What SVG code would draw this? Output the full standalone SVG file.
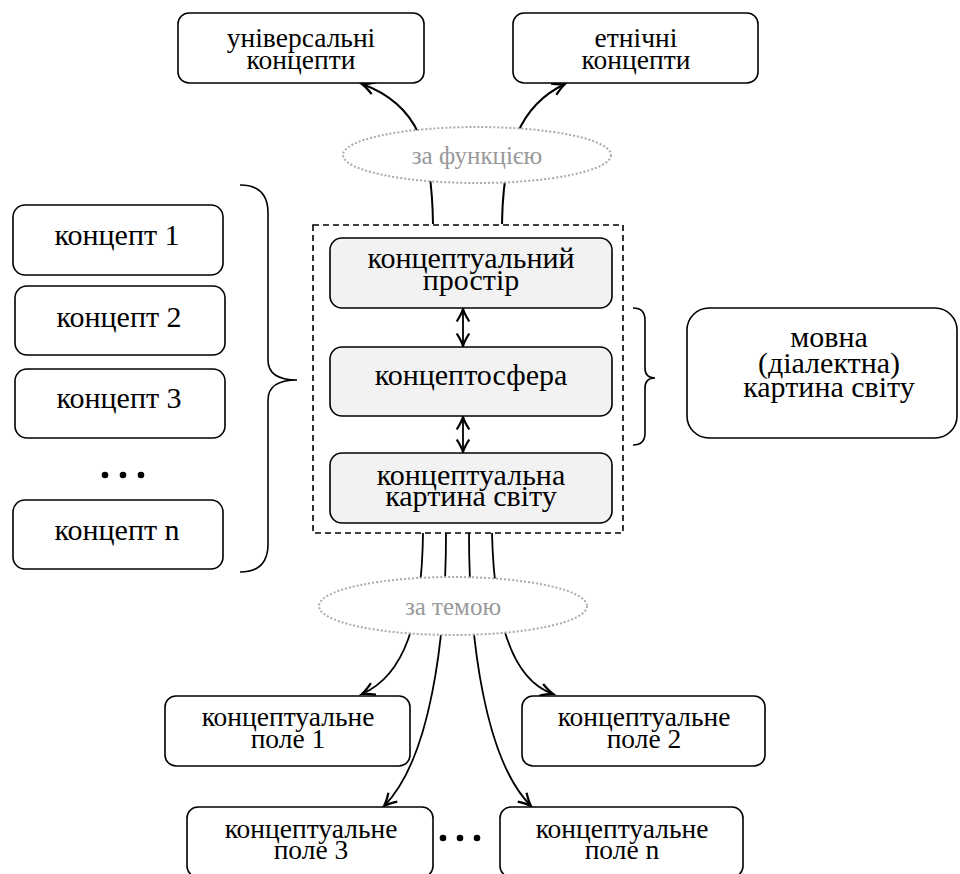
<svg xmlns="http://www.w3.org/2000/svg" width="960" height="874" viewBox="0 0 960 874">
<style>
  .box { fill: #ffffff; stroke: #000; stroke-width: 1.6; }
  .inner { fill: #f2f2f2; stroke: #000; stroke-width: 1.6; }
  .t { font-family: 'Liberation Serif', 'DejaVu Serif', serif; font-size: 30px; fill: #000; text-anchor: middle; }
  .s { font-family: 'Liberation Serif', 'DejaVu Serif', serif; font-size: 27.5px; fill: #000; text-anchor: middle; }
  .lab { font-family: 'Liberation Serif', 'DejaVu Serif', serif; font-size: 25px; fill: #999; text-anchor: middle; }
  .oval { fill: #fff; stroke: #aaa; stroke-width: 2; stroke-dasharray: 2 2; }
  .edge { fill: none; stroke: #000; stroke-width: 2; }
  .thin { fill: none; stroke: #000; stroke-width: 1.8; }
  .brace { fill: none; stroke: #000; stroke-width: 1.6; }
</style>
<defs>
  <marker id="ah" markerUnits="userSpaceOnUse" markerWidth="20" markerHeight="20" viewBox="-12 -8 14 16" refX="0" refY="0" orient="auto-start-reverse">
    <path d="M-10,-5 Q-4,-1.2 0,0 Q-4,1.2 -10,5" fill="none" stroke="#000" stroke-width="1.8"/>
  </marker>
</defs>

<g id="frame">
  <rect x="313" y="225" width="310" height="308" fill="none" stroke="#000" stroke-width="1.6" stroke-dasharray="6 4"/>
</g>

<g id="connectors">
  <path class="edge" d="M433,224 C432,150 420,105 362,84" marker-end="url(#ah)"/>
  <path class="edge" d="M502,224 C503,150 520,105 565,84" marker-end="url(#ah)"/>
  <path class="thin" d="M423,533 C422,620 405,675 362,694" marker-end="url(#ah)"/>
  <path class="thin" d="M446,533 C446,640 430,760 384,806" marker-end="url(#ah)"/>
  <path class="thin" d="M469,533 C469,640 485,760 531,806" marker-end="url(#ah)"/>
  <path class="thin" d="M492,533 C494,620 512,680 553,694" marker-end="url(#ah)"/>
  <path class="thin" d="M463,309 L463,346" marker-start="url(#ah)" marker-end="url(#ah)"/>
  <path class="thin" d="M463,417 L463,452" marker-start="url(#ah)" marker-end="url(#ah)"/>
</g>

<g id="label-function">
  <ellipse class="oval" cx="477" cy="155" rx="134" ry="28"/>
  <text class="lab" x="477" y="164">за функцією</text>
</g>
<g id="label-theme">
  <ellipse class="oval" cx="453" cy="606" rx="134" ry="29"/>
  <text class="lab" x="453" y="615">за темою</text>
</g>

<g id="universal">
  <rect class="box" x="178" y="13" width="246" height="70" rx="11"/>
  <text class="s" x="301" y="47">універсальні</text>
  <text class="s" x="301" y="69">концепти</text>
</g>
<g id="ethnic">
  <rect class="box" x="513" y="13" width="245" height="70" rx="11"/>
  <text class="s" x="636" y="47">етнічні</text>
  <text class="s" x="636" y="69">концепти</text>
</g>

<g id="space">
  <rect class="inner" x="330" y="238" width="282" height="70" rx="12"/>
  <text class="t" x="471" y="268">концептуальний</text>
  <text class="t" x="471" y="290">простір</text>
</g>
<g id="sphere">
  <rect class="inner" x="330" y="347" width="282" height="69" rx="12"/>
  <text class="t" x="471" y="385">концептосфера</text>
</g>
<g id="picture">
  <rect class="inner" x="330" y="453" width="282" height="70" rx="12"/>
  <text class="t" x="471" y="485">концептуальна</text>
  <text class="t" x="471" y="506">картина світу</text>
</g>

<g id="concept1">
  <rect class="box" x="13" y="205" width="210" height="70" rx="12"/>
  <text class="t" x="117" y="245">концепт 1</text>
</g>
<g id="concept2">
  <rect class="box" x="15" y="286" width="210" height="69" rx="12"/>
  <text class="t" x="119" y="327">концепт 2</text>
</g>
<g id="concept3">
  <rect class="box" x="15" y="369" width="210" height="69" rx="12"/>
  <text class="t" x="119" y="408">концепт 3</text>
</g>
<g id="concept-dots">
  <circle cx="105" cy="475" r="3.3"/>
  <circle cx="123" cy="475" r="3.3"/>
  <circle cx="141" cy="475" r="3.3"/>
</g>
<g id="conceptn">
  <rect class="box" x="13" y="500" width="210" height="69" rx="12"/>
  <text class="t" x="117" y="540">концепт n</text>
</g>

<g id="brace-left">
  <path class="brace" d="M240,185 Q268,185 268,213 L268,360 Q268,380 297,380 Q268,380 268,400 L268,544 Q268,572 240,572"/>
</g>
<g id="brace-right">
  <path class="brace" d="M633,308 Q645,308 645,320 L645,368 Q645,378 655,378 Q645,378 645,388 L645,433 Q645,445 633,445"/>
</g>

<g id="language-picture">
  <rect class="box" x="687" y="308" width="270" height="130" rx="22"/>
  <text class="t" x="829" y="347">мовна</text>
  <text class="t" x="829" y="373">(діалектна)</text>
  <text class="t" x="829" y="397">картина світу</text>
</g>

<g id="field1">
  <rect class="box" x="165" y="696" width="245" height="70" rx="11"/>
  <text class="s" x="288" y="726">концептуальне</text>
  <text class="s" x="288" y="748">поле 1</text>
</g>
<g id="field2">
  <rect class="box" x="522" y="696" width="243" height="70" rx="11"/>
  <text class="s" x="644" y="726">концептуальне</text>
  <text class="s" x="644" y="748">поле 2</text>
</g>
<g id="field3">
  <rect class="box" x="187" y="807" width="246" height="70" rx="11"/>
  <text class="s" x="311" y="838">концептуальне</text>
  <text class="s" x="311" y="859">поле 3</text>
</g>
<g id="field-dots">
  <circle cx="443" cy="838" r="3.3"/>
  <circle cx="460" cy="838" r="3.3"/>
  <circle cx="477" cy="838" r="3.3"/>
</g>
<g id="fieldn">
  <rect class="box" x="500" y="807" width="243" height="70" rx="11"/>
  <text class="s" x="622" y="838">концептуальне</text>
  <text class="s" x="622" y="859">поле n</text>
</g>
</svg>
